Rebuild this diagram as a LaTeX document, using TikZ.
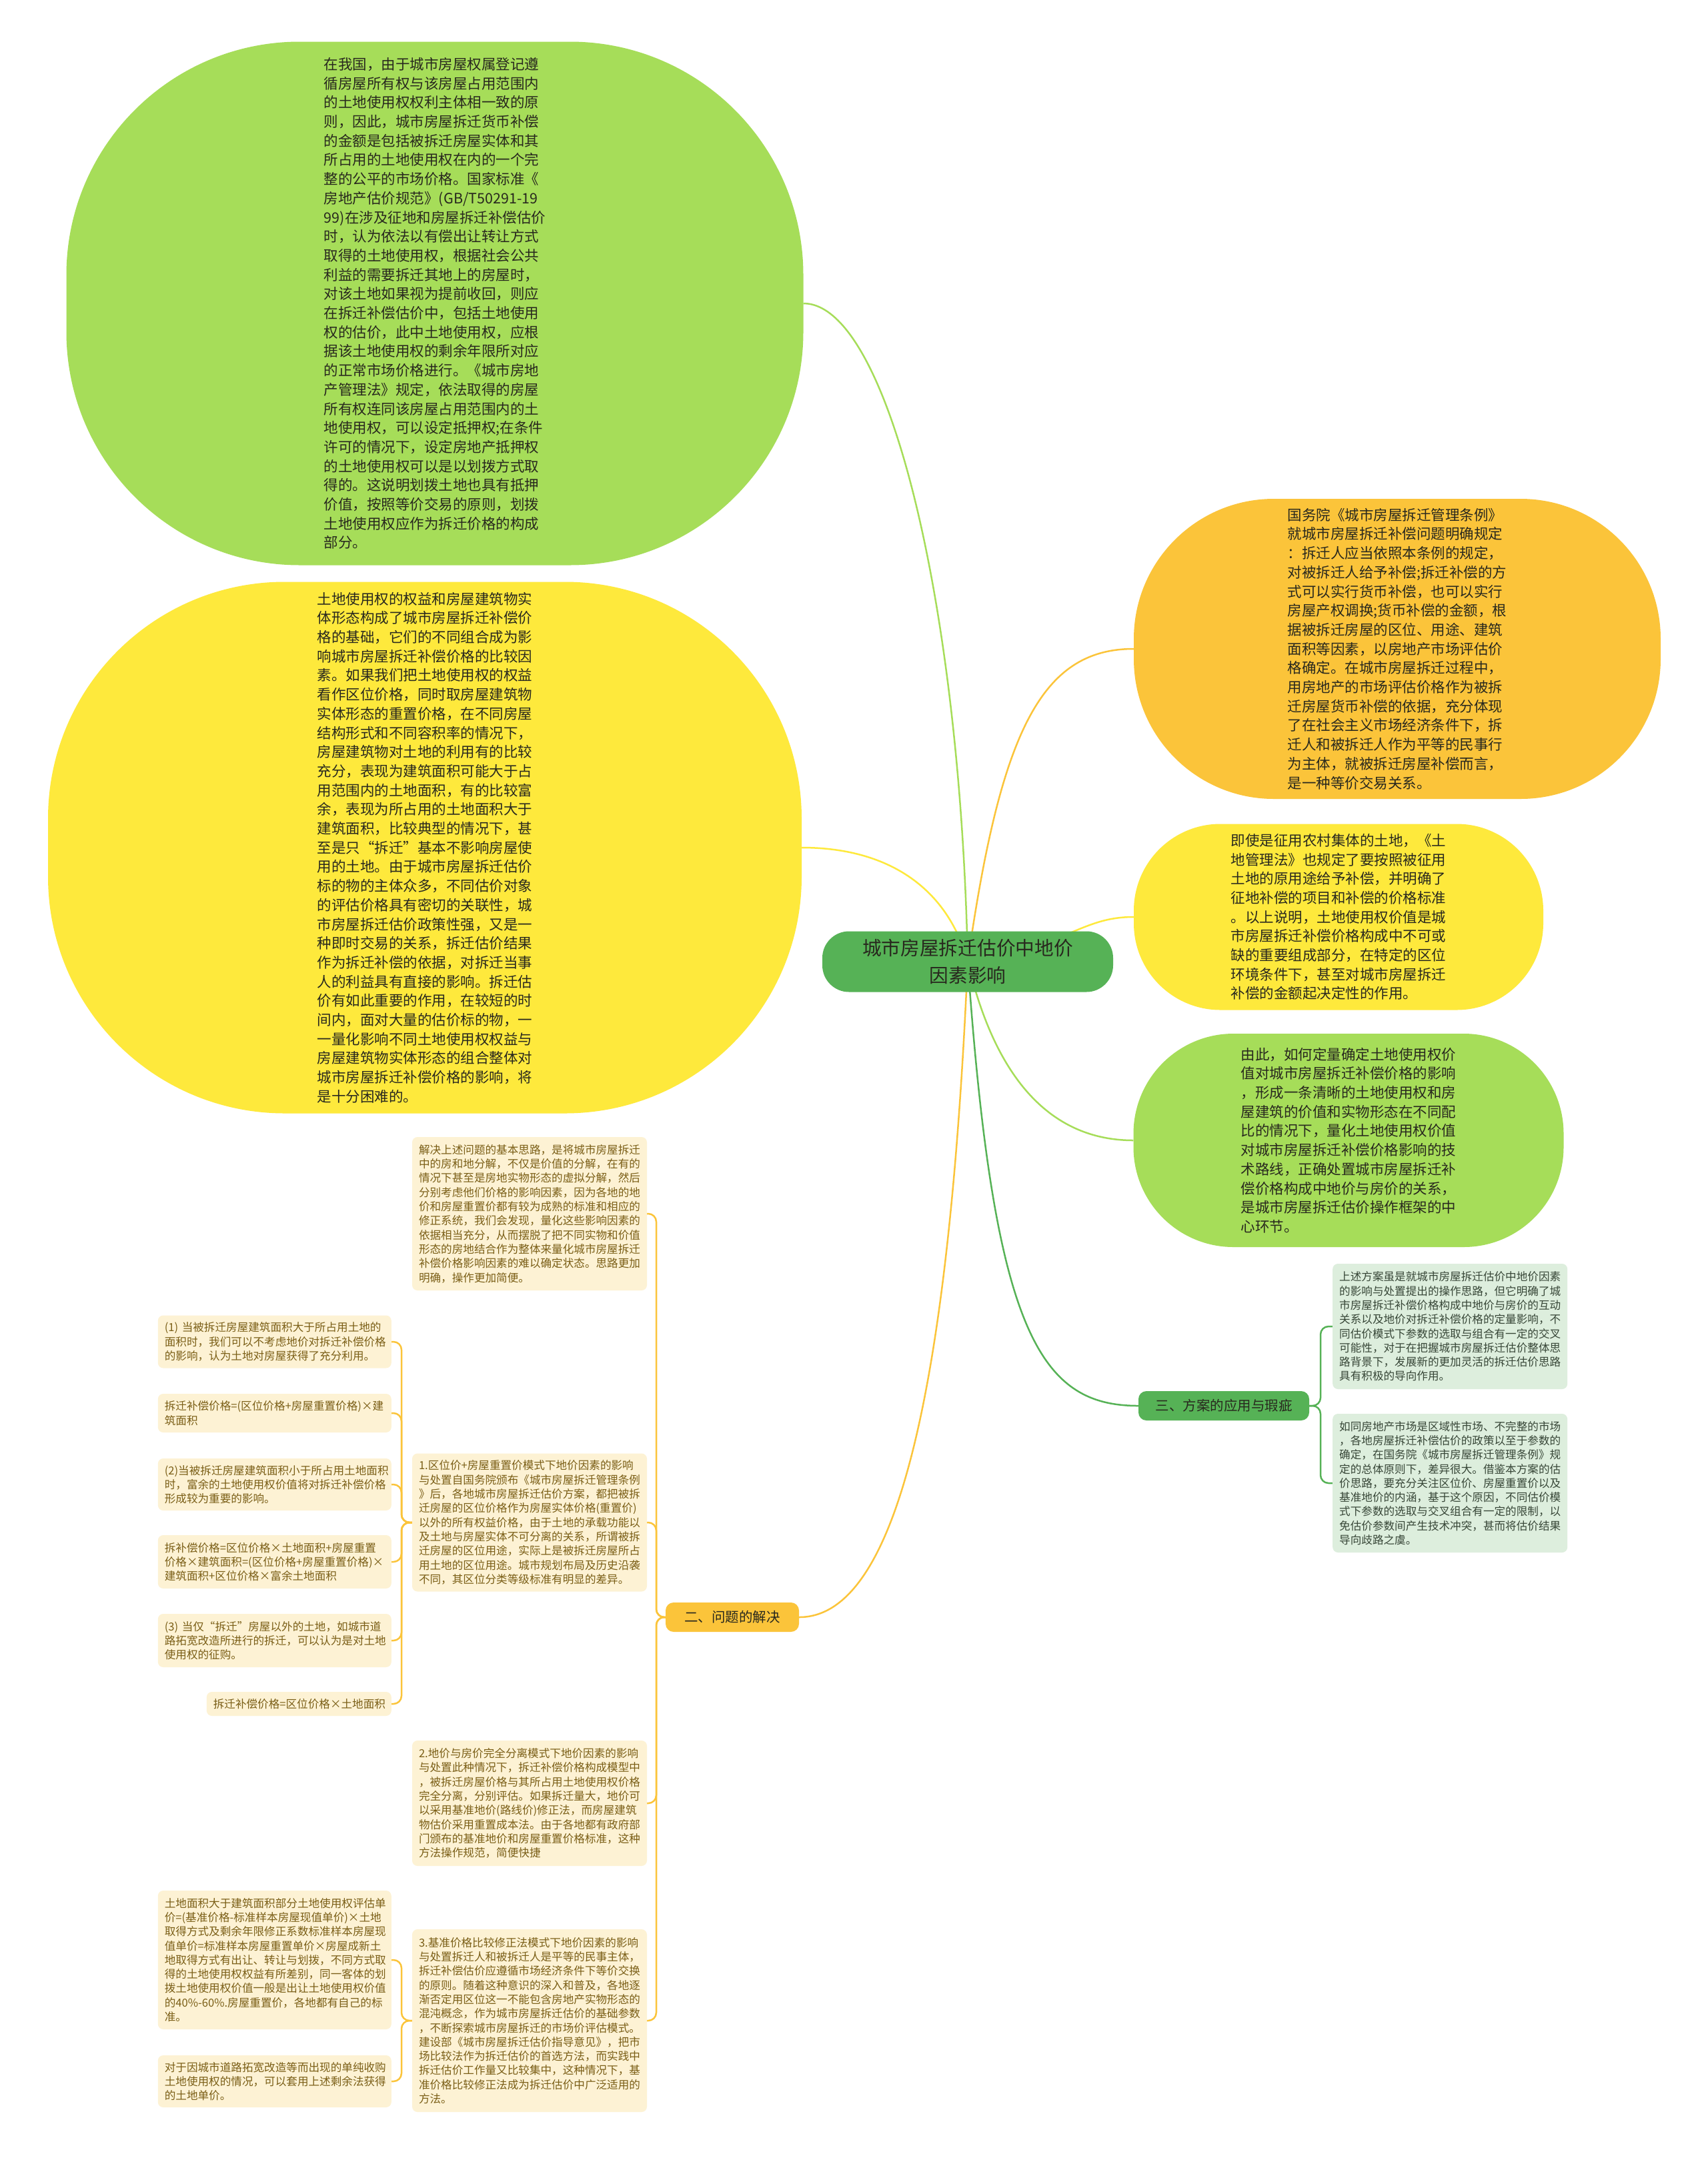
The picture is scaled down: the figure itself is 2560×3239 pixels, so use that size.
\documentclass[tikz,border=0pt]{standalone}
\usepackage{fontspec}
\setmainfont{Noto Sans CJK SC}
\usetikzlibrary{backgrounds}
\definecolor{hijaumuda}{RGB}{166,221,89}
\definecolor{kuning}{RGB}{254,233,60}
\definecolor{jingga}{RGB}{251,196,58}
\definecolor{hijau}{RGB}{86,178,86}
\definecolor{hijaupucat}{RGB}{221,238,221}
\definecolor{krem}{RGB}{253,242,212}
\definecolor{teksgelap}{RGB}{40,40,30}
\definecolor{tekshijau}{RGB}{55,70,55}
\definecolor{tekscoklat}{RGB}{122,94,22}
\begin{document}
\begin{tikzpicture}[x=1pt, y=-1pt,
      oval/.style={rounded corners=#1, inner sep=0pt, align=left, text=teksgelap,
        font=\fontsize{21.5}{28.7}\selectfont},
      pusat/.style={fill=hijau, rounded corners=40pt, minimum width=436pt, minimum height=91pt,
        align=center, text=teksgelap, font=\fontsize{28.7}{41}\selectfont},
      cabang/.style={rounded corners=12pt, minimum height=44pt, inner xsep=12pt, text=teksgelap,
        font=\fontsize{20.5}{24}\selectfont},
      kotak/.style={rounded corners=8pt, inner xsep=10pt, inner ysep=0pt, align=left,
        font=\fontsize{16.6}{21.3}\selectfont},
      kotakhijau/.style={kotak, fill=hijaupucat, text=tekshijau, text width=332pt, anchor=west},
      kotakkrem/.style={kotak, fill=krem, text=tekscoklat, text width=332pt},
      garis/.style={line width=2.5pt, rounded corners=12pt}]
    \useasboundingbox (0,0) rectangle (2560,3239);
    % pusat
    \node[pusat] (pusat) at (1451,1442) {城市房屋拆迁估价中地价\\因素影响};
    % oval kiri
    \node[oval=350pt, fill=hijaumuda, minimum width=1105pt, minimum height=785pt] (hijau1) at (652,455)
      {在我国，由于城市房屋权属登记遵\\循房屋所有权与该房屋占用范围内\\的土地使用权权利主体相一致的原\\则，因此，城市房屋拆迁货币补偿\\的金额是包括被拆迁房屋实体和其\\所占用的土地使用权在内的一个完\\整的公平的市场价格。国家标准《\\房地产估价规范》(GB/T50291-19\\99)在涉及征地和房屋拆迁补偿估价\\时，认为依法以有偿出让转让方式\\取得的土地使用权，根据社会公共\\利益的需要拆迁其地上的房屋时，\\对该土地如果视为提前收回，则应\\在拆迁补偿估价中，包括土地使用\\权的估价，此中土地使用权，应根\\据该土地使用权的剩余年限所对应\\的正常市场价格进行。《城市房地\\产管理法》规定，依法取得的房屋\\所有权连同该房屋占用范围内的土\\地使用权，可以设定抵押权;在条件\\许可的情况下，设定房地产抵押权\\的土地使用权可以是以划拨方式取\\得的。这说明划拨土地也具有抵押\\价值，按照等价交易的原则，划拨\\土地使用权应作为拆迁价格的构成\\部分。};
    \node[oval=355pt, fill=kuning, minimum width=1130pt, minimum height=797pt] (kuning1) at (637,1271)
      {土地使用权的权益和房屋建筑物实\\体形态构成了城市房屋拆迁补偿价\\格的基础，它们的不同组合成为影\\响城市房屋拆迁补偿价格的比较因\\素。如果我们把土地使用权的权益\\看作区位价格，同时取房屋建筑物\\实体形态的重置价格，在不同房屋\\结构形式和不同容积率的情况下，\\房屋建筑物对土地的利用有的比较\\充分，表现为建筑面积可能大于占\\用范围内的土地面积，有的比较富\\余，表现为所占用的土地面积大于\\建筑面积，比较典型的情况下，甚\\至是只“拆迁”基本不影响房屋使\\用的土地。由于城市房屋拆迁估价\\标的物的主体众多，不同估价对象\\的评估价格具有密切的关联性，城\\市房屋拆迁估价政策性强，又是一\\种即时交易的关系，拆迁估价结果\\作为拆迁补偿的依据，对拆迁当事\\人的利益具有直接的影响。拆迁估\\价有如此重要的作用，在较短的时\\间内，面对大量的估价标的物，一\\一量化影响不同土地使用权权益与\\房屋建筑物实体形态的组合整体对\\城市房屋拆迁补偿价格的影响，将\\是十分困难的。};
    % oval kanan
    \node[oval=210pt, fill=jingga, minimum width=790pt, minimum height=450pt] (jingga1) at (2095,973)
      {国务院《城市房屋拆迁管理条例》\\就城市房屋拆迁补偿问题明确规定\\：拆迁人应当依照本条例的规定，\\对被拆迁人给予补偿;拆迁补偿的方\\式可以实行货币补偿，也可以实行\\房屋产权调换;货币补偿的金额，根\\据被拆迁房屋的区位、用途、建筑\\面积等因素，以房地产市场评估价\\格确定。在城市房屋拆迁过程中，\\用房地产的市场评估价格作为被拆\\迁房屋货币补偿的依据，充分体现\\了在社会主义市场经济条件下，拆\\迁人和被拆迁人作为平等的民事行\\为主体，就被拆迁房屋补偿而言，\\是一种等价交易关系。};
    \node[oval=130pt, fill=kuning, minimum width=614pt, minimum height=279pt] (kuning2) at (2007,1375)
      {即使是征用农村集体的土地，《土\\地管理法》也规定了要按照被征用\\土地的原用途给予补偿，并明确了\\征地补偿的项目和补偿的价格标准\\。以上说明，土地使用权价值是城\\市房屋拆迁补偿价格构成中不可或\\缺的重要组成部分，在特定的区位\\环境条件下，甚至对城市房屋拆迁\\补偿的金额起决定性的作用。};
    \node[oval=150pt, fill=hijaumuda, minimum width=645pt, minimum height=320pt] (hijau2) at (2022,1710)
      {由此，如何定量确定土地使用权价\\值对城市房屋拆迁补偿价格的影响\\，形成一条清晰的土地使用权和房\\屋建筑的价值和实物形态在不同配\\比的情况下，量化土地使用权价值\\对城市房屋拆迁补偿价格影响的技\\术路线，正确处置城市房屋拆迁补\\偿价格构成中地价与房价的关系，\\是城市房屋拆迁估价操作框架的中\\心环节。};
    % cabang
    \node[cabang, fill=hijau, minimum width=256pt] (aplikasi) at (1835,2108) {三、方案的应用与瑕疵};
    \node[cabang, fill=jingga, minimum width=200pt] (solusi) at (1098,2425) {二、问题的解决};
    \node[kotakhijau, minimum height=188pt] (ulasan1) at (1998,1989)
      {上述方案虽是就城市房屋拆迁估价中地价因素\\的影响与处置提出的操作思路，但它明确了城\\市房屋拆迁补偿价格构成中地价与房价的互动\\关系以及地价对拆迁补偿价格的定量影响，不\\同估价模式下参数的选取与组合有一定的交叉\\可能性，对于在把握城市房屋拆迁估价整体思\\路背景下，发展新的更加灵活的拆迁估价思路\\具有积极的导向作用。};
    \node[kotakhijau, minimum height=208pt] (ulasan2) at (1998,2224)
      {如同房地产市场是区域性市场、不完整的市场\\，各地房屋拆迁补偿估价的政策以至于参数的\\确定，在国务院《城市房屋拆迁管理条例》规\\定的总体原则下，差异很大。借鉴本方案的估\\价思路，要充分关注区位价、房屋重置价以及\\基准地价的内涵，基于这个原因，不同估价模\\式下参数的选取与交叉组合有一定的限制，以\\免估价参数间产生技术冲突，甚而将估价结果\\导向歧路之虞。};
    % kolom tengah
    \node[kotakkrem, minimum height=230pt] (ide) at (794,1820)
      {解决上述问题的基本思路，是将城市房屋拆迁\\中的房和地分解，不仅是价值的分解，在有的\\情况下甚至是房地实物形态的虚拟分解，然后\\分别考虑他们价格的影响因素，因为各地的地\\价和房屋重置价都有较为成熟的标准和相应的\\修正系统，我们会发现，量化这些影响因素的\\依据相当充分，从而摆脱了把不同实物和价值\\形态的房地结合作为整体来量化城市房屋拆迁\\补偿价格影响因素的难以确定状态。思路更加\\明确，操作更加简便。};
    \node[kotakkrem, minimum height=207pt] (cara1) at (794,2283)
      {1.区位价+房屋重置价模式下地价因素的影响\\与处置自国务院颁布《城市房屋拆迁管理条例\\》后，各地城市房屋拆迁估价方案，都把被拆\\迁房屋的区位价格作为房屋实体价格(重置价)\\以外的所有权益价格，由于土地的承载功能以\\及土地与房屋实体不可分离的关系，所谓被拆\\迁房屋的区位用途，实际上是被拆迁房屋所占\\用土地的区位用途。城市规划布局及历史沿袭\\不同，其区位分类等级标准有明显的差异。};
    \node[kotakkrem, minimum height=188pt] (cara2) at (794,2704)
      {2.地价与房价完全分离模式下地价因素的影响\\与处置此种情况下，拆迁补偿价格构成模型中\\，被拆迁房屋价格与其所占用土地使用权价格\\完全分离，分别评估。如果拆迁量大，地价可\\以采用基准地价(路线价)修正法，而房屋建筑\\物估价采用重置成本法。由于各地都有政府部\\门颁布的基准地价和房屋重置价格标准，这种\\方法操作规范，简便快捷};
    \node[kotakkrem, minimum height=274pt] (cara3) at (794,3030)
      {3.基准价格比较修正法模式下地价因素的影响\\与处置拆迁人和被拆迁人是平等的民事主体，\\拆迁补偿估价应遵循市场经济条件下等价交换\\的原则。随着这种意识的深入和普及，各地逐\\渐否定用区位这一不能包含房地产实物形态的\\混沌概念，作为城市房屋拆迁估价的基础参数\\，不断探索城市房屋拆迁的市场价评估模式。\\建设部《城市房屋拆迁估价指导意见》，把市\\场比较法作为拆迁估价的首选方法，而实践中\\拆迁估价工作量又比较集中，这种情况下，基\\准价格比较修正法成为拆迁估价中广泛适用的\\方法。};
    % kolom kiri
    \node[kotakkrem, text width=330pt, anchor=east, minimum height=79pt] (kasus1) at (587,2012)
      {(1) 当被拆迁房屋建筑面积大于所占用土地的\\面积时，我们可以不考虑地价对拆迁补偿价格\\的影响，认为土地对房屋获得了充分利用。};
    \node[kotakkrem, text width=330pt, anchor=east, minimum height=58pt] (rumus1) at (587,2119)
      {拆迁补偿价格=(区位价格+房屋重置价格)×建\\筑面积};
    \node[kotakkrem, text width=330pt, anchor=east, minimum height=78pt] (kasus2) at (587,2226)
      {(2)当被拆迁房屋建筑面积小于所占用土地面积\\时，富余的土地使用权价值将对拆迁补偿价格\\形成较为重要的影响。};
    \node[kotakkrem, text width=330pt, anchor=east, minimum height=80pt] (rumus2) at (587,2342)
      {拆补偿价格=区位价格×土地面积+房屋重置\\价格×建筑面积=(区位价格+房屋重置价格)×\\建筑面积+区位价格×富余土地面积};
    \node[kotakkrem, text width=330pt, anchor=east, minimum height=80pt] (kasus3) at (587,2460)
      {(3) 当仅“拆迁”房屋以外的土地，如城市道\\路拓宽改造所进行的拆迁，可以认为是对土地\\使用权的征购。};
    \node[kotakkrem, text width=257pt, anchor=east, minimum height=36pt] (rumus3) at (587,2555)
      {拆迁补偿价格=区位价格×土地面积};
    \node[kotakkrem, text width=330pt, anchor=east, minimum height=208pt] (sisa1) at (587,2939)
      {土地面积大于建筑面积部分土地使用权评估单\\价=(基准价格-标准样本房屋现值单价)×土地\\取得方式及剩余年限修正系数标准样本房屋现\\值单价=标准样本房屋重置单价×房屋成新土\\地取得方式有出让、转让与划拨，不同方式取\\得的土地使用权权益有所差别，同一客体的划\\拨土地使用权价值一般是出让土地使用权价值\\的40\%-60\%.房屋重置价，各地都有自己的标\\准。};
    \node[kotakkrem, text width=330pt, anchor=east, minimum height=78pt] (sisa2) at (587,3121)
      {对于因城市道路拓宽改造等而出现的单纯收购\\土地使用权的情况，可以套用上述剩余法获得\\的土地单价。};
    \coordinate (j1) at (602,2283);
    \coordinate (j2) at (984,2425);
    \coordinate (j3) at (1980,2108);
    \coordinate (j4) at (602,3030);
    \begin{scope}[on background layer]
      \fill[white] (0,0) rectangle (2560,3239);
      \draw[garis, hijaumuda] (pusat.center) .. controls (1440,900) and (1330,455) .. (hijau1.east);
      \draw[garis, kuning] (pusat.center) .. controls (1420,1330) and (1330,1271) .. (kuning1.east);
      \draw[garis, jingga] (pusat.center) .. controls (1500,1100) and (1560,973) .. (jingga1.west);
      \draw[garis, kuning] (pusat.center) .. controls (1600,1420) and (1620,1375) .. (kuning2.west);
      \draw[garis, hijaumuda] (pusat.center) .. controls (1500,1650) and (1600,1710) .. (hijau2.west);
      \draw[garis, hijau] (pusat.center) .. controls (1490,2000) and (1560,2108) .. (aplikasi.west);
      \draw[garis, jingga] (pusat.center) .. controls (1420,2150) and (1330,2425) .. (solusi.east);
      \foreach \k in {ulasan1,ulasan2}
        \draw[garis, hijau] (\k.west) -| (j3) -- (aplikasi.east);
      \foreach \k in {ide,cara1,cara2,cara3}
        \draw[garis, jingga] (\k.east) -| (j2) -- (solusi.west);
      \foreach \k in {kasus1,rumus1,kasus2,rumus2,kasus3,rumus3}
        \draw[garis, jingga] (\k.east) -| (j1) -- (cara1.west);
      \foreach \k in {sisa1,sisa2}
        \draw[garis, jingga] (\k.east) -| (j4) -- (cara3.west);
    \end{scope}
  \end{tikzpicture}
\end{document}
